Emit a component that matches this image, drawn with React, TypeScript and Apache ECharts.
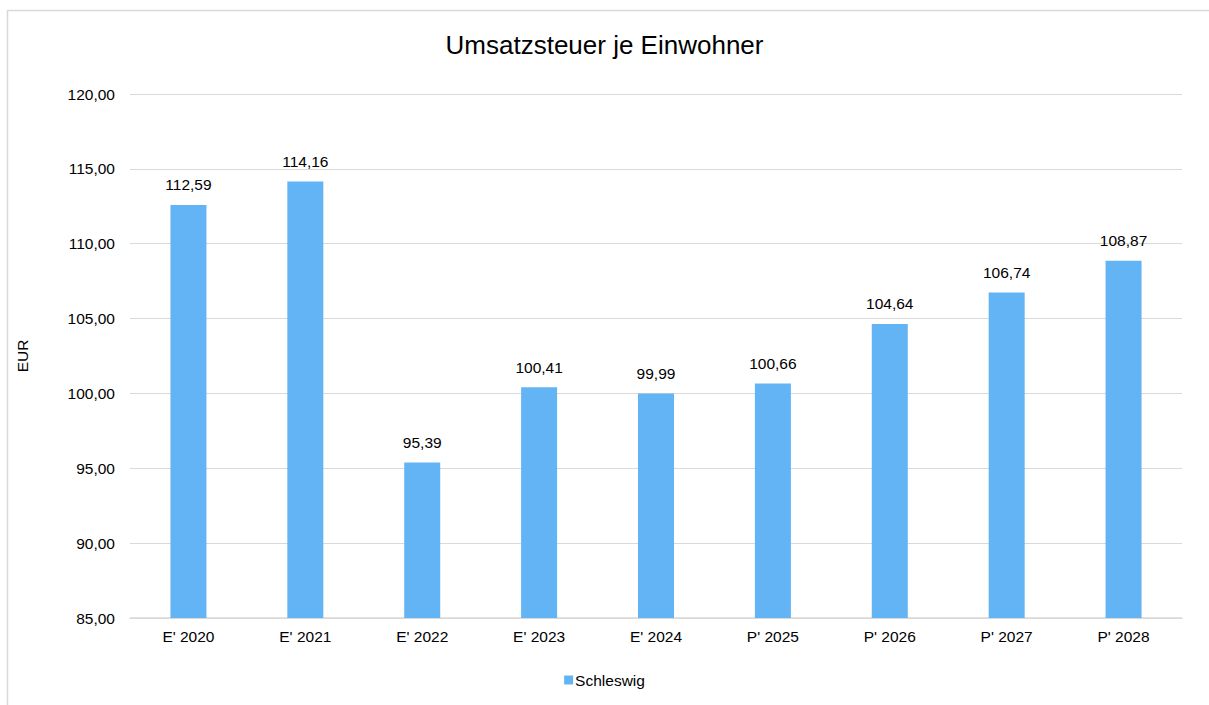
import React, { useEffect, useRef } from "react";
import * as echarts from "echarts";

const categories = ["E' 2020", "E' 2021", "E' 2022", "E' 2023", "E' 2024", "P' 2025", "P' 2026", "P' 2027", "P' 2028"];
const values = [112.59, 114.16, 95.39, 100.41, 99.99, 100.66, 104.64, 106.74, 108.87];
const seriesName = "Schleswig";
const title = "Umsatzsteuer je Einwohner";
const yAxisName = "EUR";

const fmt = (v: number) => v.toFixed(2).replace(".", ",");

export default function App() {
  const ref = useRef<HTMLDivElement>(null);
  useEffect(() => {
    document.body.style.margin = "0";
    const chart = echarts.init(ref.current!, null, { renderer: "svg" });
    const font = "Liberation Sans, Arial, sans-serif";
    const fs = 15.5;
    chart.setOption({
      animation: false,
      backgroundColor: "#ffffff",
      textStyle: { fontFamily: font },
      title: {
        text: title,
        left: "center",
        top: 27,
        textStyle: { fontFamily: font, fontSize: 26, fontWeight: "normal", color: "#000000" },
      },
      graphic: [
        {
          type: "rect",
          shape: { x: 7.5, y: 10.5, width: 1220, height: 720 },
          style: { fill: "none", stroke: "#d9d9d9", lineWidth: 1.5 },
          silent: true,
        },
      ],
      legend: {
        data: [seriesName],
        bottom: 12,
        left: "center",
        itemWidth: 9,
        itemHeight: 9,
        icon: "rect",
        textStyle: { fontFamily: font, fontSize: fs, color: "#000000", padding: [0, 0, 0, -3] },
      },
      grid: { left: 130, right: 27, top: 94, bottom: 87, containLabel: false },
      xAxis: {
        type: "category",
        data: categories,
        axisLine: { show: true, lineStyle: { color: "#d9d9d9", width: 1.5 } },
        axisTick: { show: false },
        axisLabel: { fontFamily: font, fontSize: fs, color: "#000000", margin: 10 },
      },
      yAxis: {
        type: "value",
        min: 85,
        max: 120,
        interval: 5,
        name: yAxisName,
        nameLocation: "middle",
        nameGap: 100,
        nameRotate: 90,
        nameTextStyle: { fontFamily: font, fontSize: fs, color: "#000000" },
        axisLine: { show: false },
        axisTick: { show: false },
        splitLine: { lineStyle: { color: "#d9d9d9", width: 1 } },
        axisLabel: { fontFamily: font, fontSize: fs, color: "#000000", margin: 15, formatter: (v: number) => fmt(v) },
      },
      series: [
        {
          name: seriesName,
          type: "bar",
          data: values,
          barWidth: 36,
          itemStyle: { color: "#63b4f5" },
          label: {
            show: true,
            position: "top",
            distance: 12,
            fontFamily: font,
            fontSize: fs,
            color: "#000000",
            formatter: (p: any) => fmt(p.value),
          },
        },
      ],
    });
    return () => chart.dispose();
  }, []);
  return <div ref={ref} style={{ width: 1209, height: 705 }} />;
}
